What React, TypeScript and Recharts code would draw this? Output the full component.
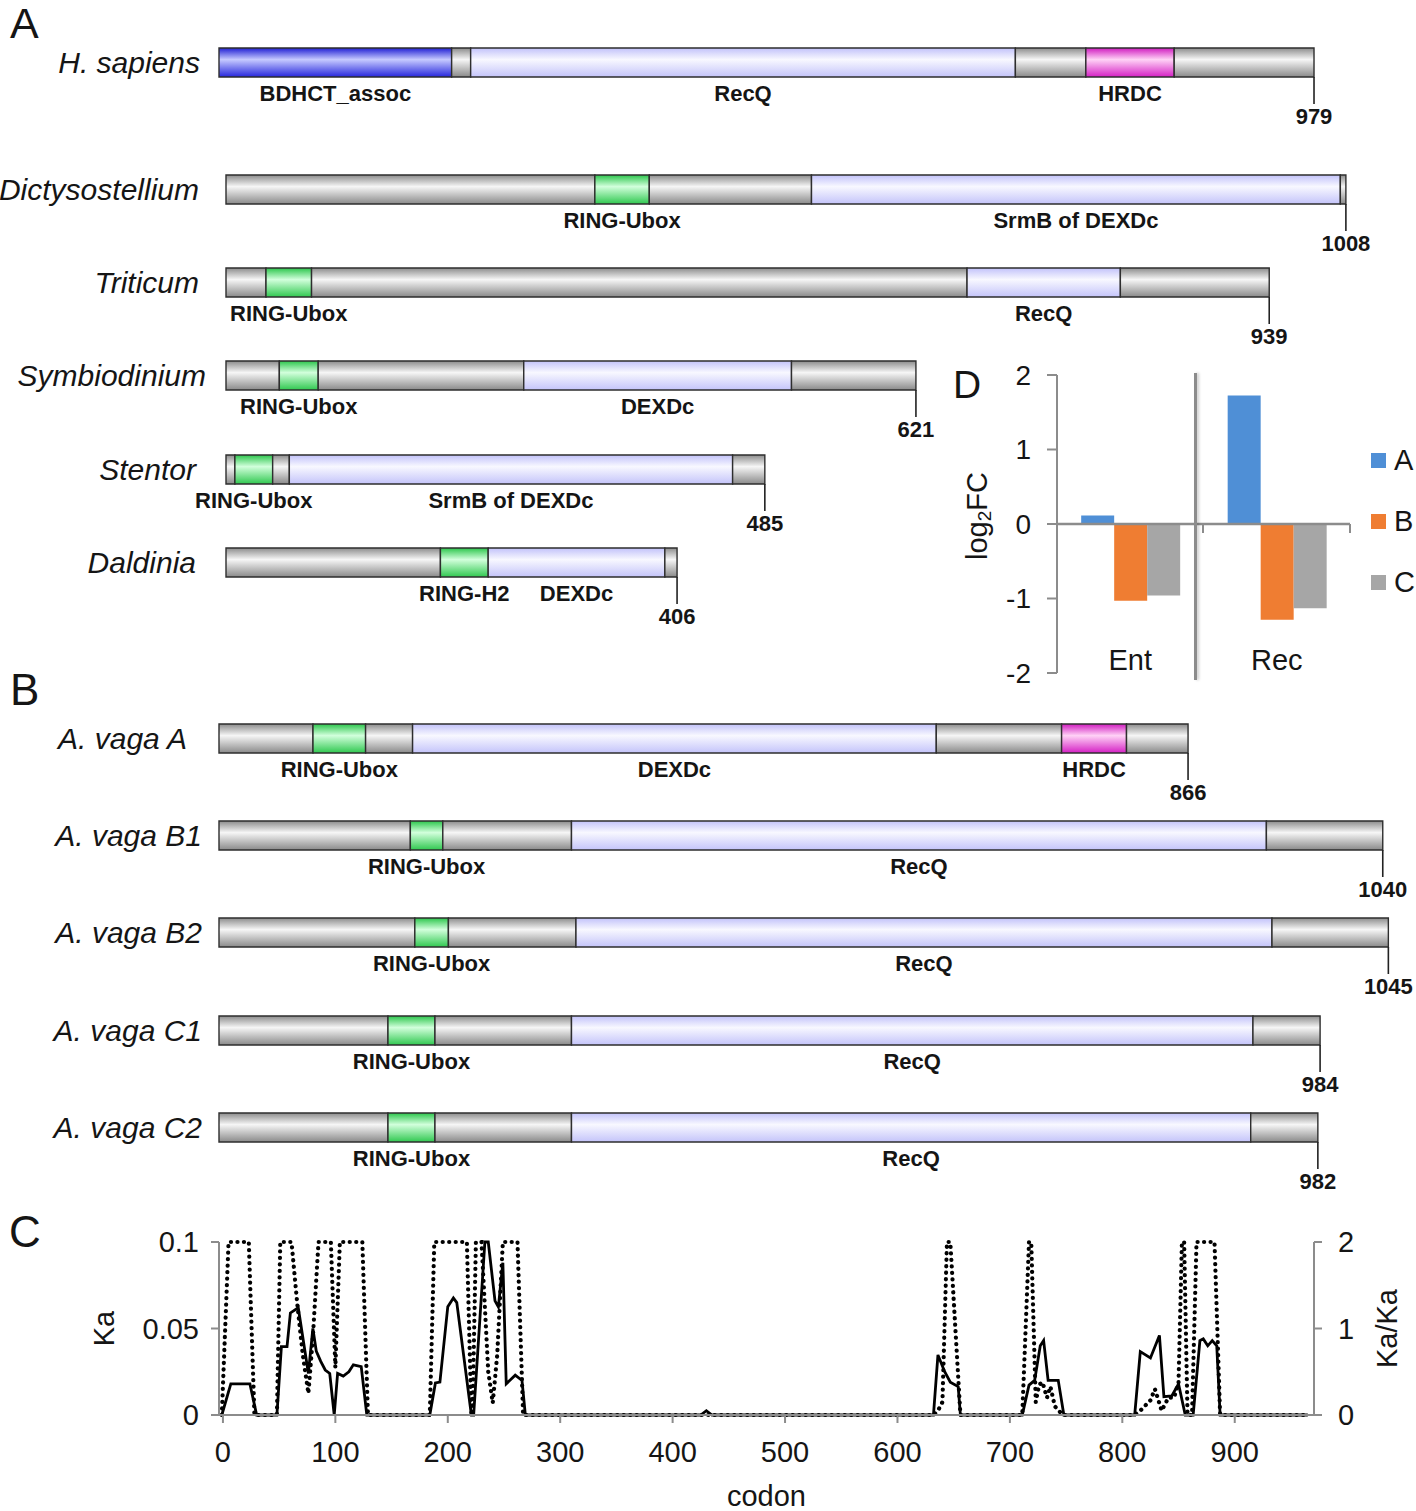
import React from 'react';
import {
  BarChart, Bar, XAxis, YAxis, LabelList, LineChart, Line,
  ReferenceLine, Legend, Label,
} from 'recharts';

const FONT = '"Liberation Sans", Arial, Helvetica, sans-serif';
const INK = '#151515';
const AXIS = '#8c8c8c';

// ---------- Panel A / B : domain architecture [start, end, kind, label] ----------
type Seg = [number, number, string, string];

const H_SAPIENS: Seg[] = [[0, 208, 'blue', 'BDHCT_assoc'], [208, 225, 'gray', ''], [225, 712, 'lav', 'RecQ'], [712, 775, 'gray', ''], [775, 854, 'mag', 'HRDC'], [854, 979, 'gray', '']];
const DICTY: Seg[] = [[0, 332, 'gray', ''], [332, 381, 'green', 'RING-Ubox'], [381, 527, 'gray', ''], [527, 1003, 'lav', 'SrmB of DEXDc'], [1003, 1008, 'gray', '']];
const TRITICUM: Seg[] = [[0, 36, 'gray', ''], [36, 77, 'green', 'RING-Ubox'], [77, 667, 'gray', ''], [667, 805, 'lav', 'RecQ'], [805, 939, 'gray', '']];
const SYMBIO: Seg[] = [[0, 48, 'gray', ''], [48, 83, 'green', 'RING-Ubox'], [83, 268, 'gray', ''], [268, 509, 'lav', 'DEXDc'], [509, 621, 'gray', '']];
const STENTOR: Seg[] = [[0, 8, 'gray', ''], [8, 42, 'green', 'RING-Ubox'], [42, 57, 'gray', ''], [57, 456, 'lav', 'SrmB of DEXDc'], [456, 485, 'gray', '']];
const DALDINIA: Seg[] = [[0, 193, 'gray', ''], [193, 236, 'green', 'RING-H2'], [236, 395, 'lav', 'DEXDc'], [395, 406, 'gray', '']];

const VAGA_A: Seg[] = [[0, 84, 'gray', ''], [84, 131, 'green', 'RING-Ubox'], [131, 173, 'gray', ''], [173, 641, 'lav', 'DEXDc'], [641, 753, 'gray', ''], [753, 811, 'mag', 'HRDC'], [811, 866, 'gray', '']];
const VAGA_B1: Seg[] = [[0, 171, 'gray', ''], [171, 200, 'green', 'RING-Ubox'], [200, 315, 'gray', ''], [315, 936, 'lav', 'RecQ'], [936, 1040, 'gray', '']];
const VAGA_B2: Seg[] = [[0, 175, 'gray', ''], [175, 205, 'green', 'RING-Ubox'], [205, 319, 'gray', ''], [319, 941, 'lav', 'RecQ'], [941, 1045, 'gray', '']];
const VAGA_C1: Seg[] = [[0, 151, 'gray', ''], [151, 193, 'green', 'RING-Ubox'], [193, 315, 'gray', ''], [315, 924, 'lav', 'RecQ'], [924, 984, 'gray', '']];
const VAGA_C2: Seg[] = [[0, 151, 'gray', ''], [151, 193, 'green', 'RING-Ubox'], [193, 315, 'gray', ''], [315, 922, 'lav', 'RecQ'], [922, 982, 'gray', '']];

const PROTEIN_NAMES = ['H. sapiens', 'Dictysostellium', 'Triticum', 'Symbiodinium', 'Stentor', 'Daldinia', 'A. vaga A', 'A. vaga B1', 'A. vaga B2', 'A. vaga C1', 'A. vaga C2'];
const PROTEIN_LENGTHS = [979, 1008, 939, 621, 485, 406, 866, 1040, 1045, 984, 982];
const PROTEIN_SEGS = [H_SAPIENS, DICTY, TRITICUM, SYMBIO, STENTOR, DALDINIA, VAGA_A, VAGA_B1, VAGA_B2, VAGA_C1, VAGA_C2];

// layout (center y, plot start x, px per residue, name right edge)
const ROW_LAYOUT: [number, number, number, number][] = [
  [61.5, 219, 1.1185, 200], [188.5, 226, 1.111, 199], [282, 226, 1.111, 199], [375, 226, 1.111, 206],
  [468.5, 226, 1.111, 196], [562, 226, 1.111, 196],
  [737.5, 219, 1.119, 187], [835, 219, 1.119, 202], [932, 219, 1.119, 202], [1030, 219, 1.119, 202], [1127, 219, 1.119, 202],
];
const DMAX = 1050;

const GRADS: Record<string, [string, string, string]> = {
  gray: ['#8c8c8c', '#f6f6f6', '#8a8a8a'],
  green: ['#2cc64c', '#d2ffdc', '#30c850'],
  blue: ['#2020d4', '#c6caff', '#2626dc'],
  lav: ['#c2c2fa', '#f8f8ff', '#c4c4fa'],
  mag: ['#d01cc0', '#ffd2f6', '#d420c4'],
};

// ---------- Panel C : Ka and Ka/Ks along codons ----------
const KA_POINTS: [number, number][] = [
  [-1, 0], [7, 0.018], [24, 0.018], [30, 0], [48, 0], [52, 0.0395], [57, 0.0395], [60, 0.059], [67, 0.062],
  [76, 0.024], [80, 0.05], [83, 0.037], [87, 0.031], [91, 0.026], [95, 0.024], [99, 0], [102, 0.024],
  [107, 0.0225], [112, 0.025], [116, 0.029], [123, 0.028], [128, 0], [184, 0], [189, 0.0185], [193, 0.019],
  [200, 0.0626], [205, 0.0676], [208, 0.065], [221, 0], [223, 0], [233, 0.1], [236, 0.1], [242, 0.066],
  [245, 0.0625], [249, 0.088], [252, 0.018], [260, 0.023], [266, 0.02], [269, 0], [425, 0], [430, 0.0025],
  [435, 0], [632, 0], [636, 0.0347], [642, 0.025], [647, 0.019], [654, 0.0164], [656, 0], [711, 0],
  [717, 0.0173], [722, 0.02], [727, 0.04], [730, 0.043], [734, 0.02], [743, 0.02], [748, 0], [811, 0],
  [816, 0.0366], [825, 0.033], [833, 0.046], [837, 0.0106], [844, 0.011], [850, 0.018], [856, 0], [863, 0],
  [869, 0.043], [872, 0.044], [876, 0.04], [880, 0.043], [884, 0.04], [887, 0], [965, 0],
];
const KAKS_POINTS: [number, number][] = [
  [-1, 0], [5, 2], [23, 2], [28, 0], [48, 0], [51, 2], [61, 2], [66, 1.3], [71, 0.7], [76, 0.25], [80, 0.9],
  [85, 2], [96, 2], [100, 0.55], [104, 2], [124, 2], [129, 0], [184, 0], [188, 2], [217, 2], [221, 0],
  [222, 0], [225, 2], [230, 2], [236, 0.5], [240, 0.14], [244, 0.7], [249, 2], [262, 2], [267, 0], [632, 0],
  [636, 0.05], [640, 0.15], [644, 2], [647, 2], [656, 0], [711, 0], [717, 2], [719, 2], [723, 0.15],
  [726, 0.35], [729, 0.38], [733, 0.2], [736, 0.33], [740, 0.1], [747, 0], [811, 0], [816, 0.05],
  [825, 0.17], [829, 0.3], [835, 0.05], [841, 0.2], [846, 0.2], [850, 0.38], [853, 2], [855, 2], [858, 0],
  [862, 0], [866, 2], [882, 2], [887, 0], [965, 0],
];
const C_X_TICKS = [0, 100, 200, 300, 400, 500, 600, 700, 800, 900];
const KA_TICKS = [0, 0.05, 0.1];
const KAKS_TICKS = [0, 1, 2];

// ---------- Panel D : log2FC ----------
const D_CATEGORIES = ['Ent', 'Rec'];
const D_A = [0.115, 1.725];
const D_B = [-1.03, -1.285];
const D_C = [-0.96, -1.13];
const D_TICKS = [-2, -1, 0, 1, 2];
const D_COLORS = { A: '#4f8fd6', B: '#ef7d32', C: '#a6a6a6' };

const vbOf = (p: any) => {
  const vb = p.viewBox || {};
  return {
    x: Number(vb.x ?? p.x ?? 0), y: Number(vb.y ?? p.y ?? 0),
    width: Number(vb.width ?? p.width ?? 0), height: Number(vb.height ?? p.height ?? 0),
  };
};

function DomainRow({ idx }: { idx: number }) {
  const segs = PROTEIN_SEGS[idx];
  const name = PROTEIN_NAMES[idx];
  const length = PROTEIN_LENGTHS[idx];
  const [cy, x0, scale, nameEnd] = ROW_LAYOUT[idx];
  const BAND = 100;
  const EXTRA = 45;
  const row: any = { name };
  segs.forEach((s, i) => { row['s' + i] = s[1] - s[0]; });
  const right = 1416 - x0 - DMAX * scale;
  const gid = 'g' + idx;
  return (
    <div style={{ position: 'absolute', left: 0, top: cy - BAND / 2 }}>
      <BarChart width={1416} height={BAND + EXTRA} data={[row]} layout="vertical" barSize={29}
        margin={{ top: 0, right, bottom: EXTRA, left: 0 }}>
        <defs>
          {Object.keys(GRADS).map((k) => (
            <linearGradient key={k} id={`${gid}-${k}`} x1="0" y1="0" x2="0" y2="1">
              <stop offset="0" stopColor={GRADS[k][0]} />
              <stop offset="0.4" stopColor={GRADS[k][1]} />
              <stop offset="1" stopColor={GRADS[k][2]} />
            </linearGradient>
          ))}
        </defs>
        <XAxis type="number" domain={[0, DMAX]} hide />
        <YAxis type="category" dataKey="name" width={x0} axisLine={false} tickLine={false}
          tick={(p: any) => (
            <text x={nameEnd} y={p.y} dy="0.35em" textAnchor="end" fontStyle="italic"
              fontSize={30} fill={INK} fontFamily={FONT}>{p.payload.value}</text>
          )} />
        {segs.map((s, i) => (
          <Bar key={i} dataKey={'s' + i} stackId="p" fill={`url(#${gid}-${s[2]})`}
            stroke="#2e2e2e" strokeWidth={1.4} isAnimationActive={false}>
            {s[3] ? (
              <LabelList dataKey={'s' + i} content={(p: any) => {
                const b = vbOf(p);
                return (
                  <text x={b.x + b.width / 2} y={b.y + b.height + 24} textAnchor="middle"
                    fontWeight="bold" fontSize={22} fill={INK} fontFamily={FONT}>{s[3]}</text>
                );
              }} />
            ) : null}
            {i === segs.length - 1 ? (
              <LabelList dataKey={'s' + i} content={(p: any) => {
                const b = vbOf(p);
                const xe = b.x + b.width;
                const yb = b.y + b.height;
                return (
                  <g>
                    <line x1={xe} x2={xe} y1={yb} y2={yb + 27} stroke="#222" strokeWidth={1.6} />
                    <text x={xe} y={yb + 47} textAnchor="middle" fontWeight="bold" fontSize={22}
                      fill={INK} fontFamily={FONT}>{String(length)}</text>
                  </g>
                );
              }} />
            ) : null}
          </Bar>
        ))}
      </BarChart>
    </div>
  );
}

function PanelC() {
  const ka = KA_POINTS.map(([codon, v]) => ({ codon, v }));
  const kaks = KAKS_POINTS.map(([codon, v]) => ({ codon, v }));
  const tickStyle = { fontSize: 29, fill: INK, fontFamily: FONT };
  return (
    <div style={{ position: 'absolute', left: 0, top: 1200 }}>
      <LineChart width={1416} height={311} margin={{ top: 42, right: 22, bottom: 36, left: 99 }}>
        <XAxis type="number" dataKey="codon" domain={[-3.5, 970.5]} ticks={C_X_TICKS} height={60}
          tickSize={8} tickMargin={18} tick={tickStyle}
          axisLine={{ stroke: AXIS, strokeWidth: 2 }} tickLine={{ stroke: AXIS, strokeWidth: 2 }}>
          <Label content={(p: any) => {
            const b = vbOf(p);
            return <text x={b.x + b.width / 2} y={b.y + b.height + 31} textAnchor="middle"
              fontSize={29} fill={INK} fontFamily={FONT}>codon</text>;
          }} />
        </XAxis>
        <YAxis yAxisId="ka" domain={[0, 0.1]} ticks={KA_TICKS} width={120} tickSize={8} tickMargin={12}
          tick={tickStyle} axisLine={{ stroke: AXIS, strokeWidth: 2 }} tickLine={{ stroke: AXIS, strokeWidth: 2 }}>
          <Label content={(p: any) => {
            const b = vbOf(p);
            return <text transform={`translate(${b.x + 5},${b.y + b.height / 2}) rotate(-90)`}
              textAnchor="middle" dominantBaseline="central" fontSize={29} fill={INK} fontFamily={FONT}>Ka</text>;
          }} />
        </YAxis>
        <YAxis yAxisId="kaks" orientation="right" domain={[0, 2]} ticks={KAKS_TICKS} width={80}
          tickSize={8} tickMargin={16} tick={tickStyle}
          axisLine={{ stroke: AXIS, strokeWidth: 2 }} tickLine={{ stroke: AXIS, strokeWidth: 2 }}>
          <Label content={(p: any) => {
            const b = vbOf(p);
            return <text transform={`translate(${b.x + 73},${b.y + b.height / 2}) rotate(-90)`}
              textAnchor="middle" dominantBaseline="central" fontSize={29} fill={INK} fontFamily={FONT}>Ka/Ka</text>;
          }} />
        </YAxis>
        <Line yAxisId="kaks" data={kaks} dataKey="v" type="linear" stroke="#000" strokeWidth={4.2}
          strokeDasharray="0.1 6.4" strokeLinecap="round" dot={false} activeDot={false}
          isAnimationActive={false} />
        <Line yAxisId="ka" data={ka} dataKey="v" type="linear" stroke="#000" strokeWidth={2.8}
          dot={false} activeDot={false} isAnimationActive={false} />
      </LineChart>
    </div>
  );
}

function PanelD() {
  const data = D_CATEGORIES.map((cat, i) => ({ cat, A: D_A[i], B: D_B[i], C: D_C[i] }));
  return (
    <div style={{ position: 'absolute', left: 940, top: 340 }}>
      <BarChart width={476} height={360} data={data} margin={{ top: 35, right: 66, bottom: 25, left: 37 }}
        barCategoryGap="16.5%" barGap={0}>
        <XAxis dataKey="cat" height={2} axisLine={false} tickLine={false} tickSize={0} tickMargin={0}
          interval={0}
          tick={(p: any) => (
            <text x={p.x} y={p.y - 3} textAnchor="middle" fontSize={29} fill={INK} fontFamily={FONT}>
              {p.payload.value}</text>
          )} />
        <YAxis domain={[-2, 2]} ticks={D_TICKS} width={80} tickSize={10} tickMargin={16}
          tick={{ fontSize: 28, fill: INK, fontFamily: FONT }}
          axisLine={{ stroke: AXIS, strokeWidth: 2 }} tickLine={{ stroke: AXIS, strokeWidth: 2 }}>
          <Label content={(p: any) => {
            const b = vbOf(p);
            return (
              <text transform={`translate(${b.x},${b.y + b.height / 2 - 8}) rotate(-90)`}
                textAnchor="middle" dominantBaseline="central" fontSize={29} fill={INK} fontFamily={FONT}>
                log<tspan fontSize={19} dy={7}>2</tspan><tspan dy={-7}>FC</tspan>
              </text>
            );
          }} />
        </YAxis>
        <Bar dataKey="A" name="A" fill={D_COLORS.A} isAnimationActive={false} />
        <Bar dataKey="B" name="B" fill={D_COLORS.B} isAnimationActive={false} />
        <Bar dataKey="C" name="C" fill={D_COLORS.C} isAnimationActive={false} />
        <ReferenceLine y={0} stroke={AXIS} strokeWidth={2.5} />
        <Legend layout="vertical" align="center" verticalAlign="middle"
          wrapperStyle={{ left: 431, top: 90, width: 46, height: 182 }}
          content={(p: any) => (
            <div style={{ fontFamily: FONT }}>
              {(p.payload || []).map((e: any) => (
                <div key={e.value} style={{ height: 61, display: 'flex', alignItems: 'center' }}>
                  <span style={{ width: 15, height: 15, background: e.color, display: 'inline-block', marginRight: 8 }} />
                  <span style={{ fontSize: 29, color: INK, lineHeight: 1 }}>{e.value}</span>
                </div>
              ))}
            </div>
          )} />
      </BarChart>
    </div>
  );
}

const letter = (t: string, left: number, top: number, size: number) => (
  <div style={{ position: 'absolute', left, top, fontSize: size, lineHeight: 1.1, fontFamily: FONT, color: INK }}>{t}</div>
);

export default function App() {
  return (
    <div style={{ position: 'absolute', left: 0, top: 0, width: 1416, height: 1511, background: '#fff', fontFamily: FONT, overflow: 'hidden' }}>
      {PROTEIN_NAMES.map((_, i) => <DomainRow key={i} idx={i} />)}
      <PanelC />
      <PanelD />
      <div style={{ position: 'absolute', left: 1194, top: 373, width: 2.5, height: 307, background: AXIS, boxShadow: '2px 0 3px rgba(0,0,0,0.2)' }} />
      <div style={{ position: 'absolute', left: 1202, top: 524, width: 2, height: 9, background: AXIS }} />
      <div style={{ position: 'absolute', left: 1349, top: 524, width: 2, height: 9, background: AXIS }} />
      {letter('A', 10, 0, 43)}
      {letter('B', 10, 666, 44)}
      {letter('C', 9, 1208, 44)}
      {letter('D', 953, 364, 39)}
    </div>
  );
}
